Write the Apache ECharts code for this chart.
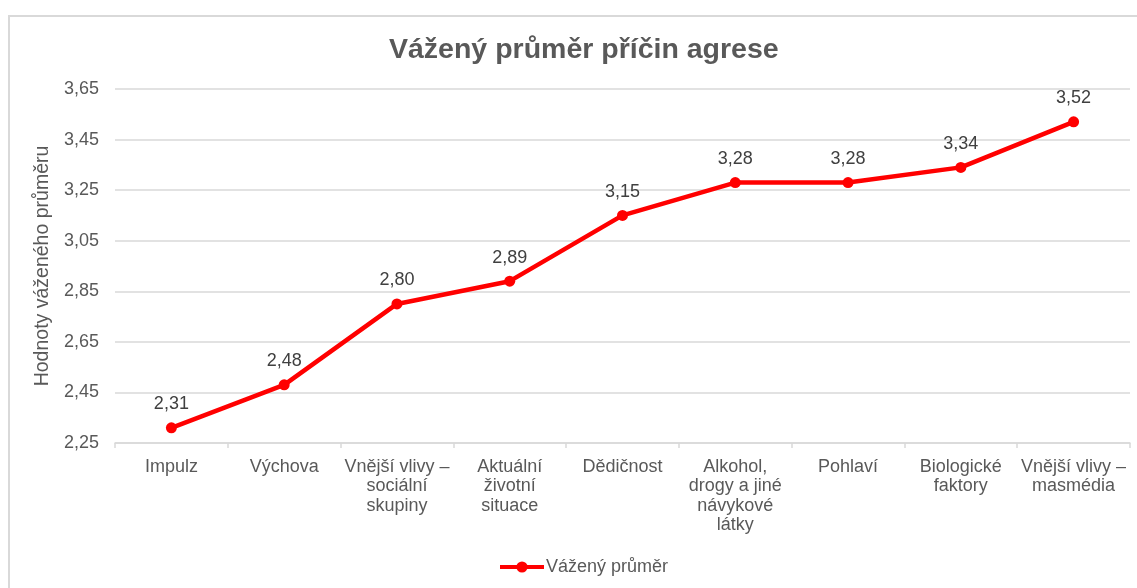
<!DOCTYPE html>
<html>
<head>
<meta charset="utf-8">
<script src="https://cdn.jsdelivr.net/npm/echarts@6/dist/echarts.min.js"></script>
<style>
  html, body { margin: 0; padding: 0; background: #fff; }
  .frame {
    position: absolute; left: 8px; top: 15px;
    width: 1140px; height: 600px;
    border: 2px solid #d9d9d9;
  }
  #chart { position: absolute; left: 0; top: 0; width: 1137px; height: 588px; }
</style>
</head>
<body>
<div class="frame"></div>
<div id="chart"></div>
<script>
// categories and values
const categories = [
  'Impulz',
  'Výchova',
  'Vnější vlivy –\nsociální\nskupiny',
  'Aktuální\nživotní\nsituace',
  'Dědičnost',
  'Alkohol,\ndrogy a jiné\nnávykové\nlátky',
  'Pohlaví',
  'Biologické\nfaktory',
  'Vnější vlivy –\nmasmédia'
]
const weightedMean = [2.31, 2.48, 2.80, 2.89, 3.15, 3.28, 3.28, 3.34, 3.52]

const textColor = '#595959'
const fmt = v => v.toFixed(2).replace('.', ',')

const chart = echarts.init(document.getElementById('chart'))
chart.setOption({
  backgroundColor: 'transparent',
  textStyle: { fontFamily: '"Liberation Sans", Arial, sans-serif' },
  title: {
    text: 'Vážený průměr příčin agrese',
    left: 384,
    top: 31,
    textStyle: { fontSize: 28.5, fontWeight: 'bold', color: textColor }
  },
  grid: { left: 115, right: 7, top: 89, bottom: 145 },
  legend: {
    bottom: 7,
    left: 493,
    itemWidth: 44,
    itemHeight: 14,
    itemGap: 10,
    lineStyle: { width: 4 },
    textStyle: { fontSize: 18, color: textColor, padding: [0, 0, 0, -3] },
    data: ['Vážený průměr']
  },
  xAxis: {
    type: 'category',
    data: categories,
    boundaryGap: true,
    axisLine: { lineStyle: { color: '#d9d9d9', width: 1.5 } },
    axisTick: { show: true, length: 5, lineStyle: { color: '#d9d9d9', width: 1.5 } },
    axisLabel: {
      color: textColor,
      fontSize: 18,
      lineHeight: 19.5,
      margin: 14,
      interval: 0
    }
  },
  yAxis: {
    type: 'value',
    min: 2.25,
    max: 3.65,
    interval: 0.2,
    name: 'Hodnoty váženého průměru',
    nameLocation: 'middle',
    nameGap: 57,
    nameTextStyle: { fontSize: 19.5, color: textColor },
    axisLine: { show: false },
    axisTick: { show: false },
    splitLine: { lineStyle: { color: '#d9d9d9', width: 1.5 } },
    axisLabel: { color: textColor, fontSize: 18, margin: 16, formatter: fmt }
  },
  series: [{
    name: 'Vážený průměr',
    type: 'line',
    data: weightedMean,
    symbol: 'circle',
    symbolSize: 11,
    lineStyle: { color: '#ff0000', width: 4.5 },
    itemStyle: { color: '#ff0000' },
    label: {
      show: true,
      position: 'top',
      distance: 9,
      fontSize: 18,
      color: '#404040',
      formatter: p => fmt(p.value)
    }
  }]
})
</script>
</body>
</html>
